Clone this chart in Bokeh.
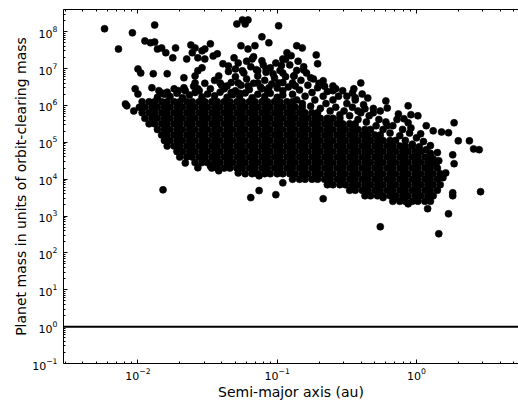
import numpy as np
from bokeh.plotting import figure
from bokeh.models import LogAxis, FixedTicker, Span, Range1d, CustomJSTickFormatter
from bokeh.embed import file_html
from bokeh.resources import INLINE

# Values, stored as (log10 semi-major axis [au], log10 planet mass / orbit-clearing mass)
top_outliers = [
    (-2.24, 8.08), (-2.14, 7.53), (-2.04, 7.97), (-1.88, 8.18), (-1.95, 7.75), (-1.91, 7.70),
    (-1.88, 7.72), (-1.86, 7.53), (-1.83, 7.56), (-1.80, 7.43), (-1.73, 7.56), (-1.75, 7.29),
    (-1.62, 7.64), (-1.59, 7.56), (-1.65, 7.26), (-1.61, 7.43), (-1.54, 7.48), (-1.48, 7.67),
    (-1.52, 7.53), (-1.57, 7.29), (-1.52, 7.26), (-1.46, 7.34), (-1.43, 7.40), (-2.00, 6.99),
    (-1.98, 6.88), (-1.89, 6.86), (-1.79, 6.86), (-1.67, 6.75), (-1.59, 6.80), (-1.59, 6.61),
    (-1.54, 7.02), (-1.57, 6.94), (-2.02, 6.45), (-2.00, 6.31), (-2.09, 6.04), (-2.08, 5.99),
    (-2.03, 5.85), (-1.90, 6.48), (-1.83, 6.34), (-1.71, 6.40), (-1.67, 6.48), (-1.25, 8.32),
    (-1.21, 8.32), (-1.29, 8.21), (-1.23, 8.21), (-0.99, 8.16), (-1.11, 7.86), (-1.06, 7.70),
    (-1.26, 7.62), (-1.16, 7.62), (-1.21, 7.53), (-1.18, 7.26), (-1.11, 7.21), (-1.39, 7.13),
    (-1.35, 7.07), (-1.31, 7.29), (-1.30, 6.99), (-1.25, 6.94), (-1.42, 6.80), (-1.41, 6.61),
    (-1.36, 6.53), (-1.28, 6.61), (-1.21, 6.53), (-1.14, 6.94), (-1.08, 6.99), (-1.03, 6.86),
    (-0.96, 6.88), (-0.96, 7.26), (-0.93, 7.43), (-1.14, 6.61), (-1.11, 6.45), (-1.06, 6.48),
    (-0.99, 6.61), (-0.96, 6.40), (-1.57, 6.45),
]

right_points = [
    (-0.86, 7.62), (-0.82, 7.56), (-0.72, 7.37), (-0.71, 7.13), (-0.81, 6.96), (-0.88, 6.80),
    (-0.87, 6.53), (-0.89, 6.61), (-0.76, 6.75), (-0.67, 6.67), (-0.60, 6.53), (-0.60, 6.40),
    (-0.40, 6.61), (-0.39, 6.31), (-0.53, 6.40), (-0.46, 6.34), (-0.44, 6.21), (-0.22, 6.12),
    (-0.21, 5.93), (-0.06, 5.99), (-0.04, 5.75), (-0.42, 5.85), (-0.37, 5.91), (-0.31, 5.80),
    (-0.26, 5.85), (-0.13, 5.77), (-0.09, 5.64), (-0.06, 5.53), (-0.21, 5.45), (0.01, 5.72),
    (0.07, 5.45), (-0.04, 5.39), (0.12, 5.31), (0.18, 5.28), (0.23, 5.26), (0.27, 5.53),
    (0.03, 5.23), (0.30, 5.04), (0.38, 5.04), (0.41, 4.82), (0.45, 4.80), (0.10, 4.91),
    (0.26, 4.66), (0.27, 4.42), (0.15, 4.72), (0.16, 4.50), (0.21, 4.17), (0.19, 4.04),
    (0.46, 3.66), (0.26, 3.63), (0.26, 3.55), (0.23, 3.06), (0.16, 2.52), (-0.26, 2.71),
    (-0.67, 3.47), (0.08, 3.20), (-0.06, 3.33), (-0.24, 3.50), (-0.16, 3.47),
]

lower_points = [
    (-1.82, 3.71), (-1.19, 3.50), (-1.13, 3.69), (-1.01, 3.58), (-1.66, 4.44), (-1.57, 4.31),
    (-1.48, 4.36), (-1.42, 4.23), (-1.28, 4.17), (-1.13, 4.09), (-0.96, 3.90),
]

cloud_points = [
    (-1.38, 6.45), (-1.33, 6.62), (-1.30, 6.40), (-1.26, 6.55), (-1.22, 6.72), (-1.20, 6.43),
    (-1.17, 6.60), (-1.14, 6.80), (-1.12, 6.50), (-1.09, 6.68), (-1.07, 6.40), (-1.04, 6.58),
    (-1.02, 6.75), (-1.00, 6.47), (-0.98, 6.95), (-0.96, 6.62), (-0.94, 6.78), (-0.92, 6.50),
    (-1.24, 6.88), (-1.19, 7.05), (-1.15, 6.97), (-1.10, 7.10), (-1.05, 7.02), (-1.01, 7.15),
    (-0.97, 7.08), (-1.30, 6.78), (-1.35, 6.92), (-1.28, 7.15), (-1.22, 7.20), (-1.17, 7.32),
    (-1.08, 6.90), (-1.33, 6.35), (-1.27, 6.33), (-1.40, 6.55), (-1.45, 6.68), (-1.48, 6.45),
    (-1.52, 6.60), (-1.56, 6.40), (-1.60, 6.52), (-1.66, 6.40), (-1.74, 6.45), (-1.79, 6.36),
    (-1.85, 6.40),
    (-0.89, 6.30), (-0.86, 6.15), (-0.84, 6.42), (-0.82, 6.05), (-0.80, 6.25), (-0.78, 6.55),
    (-0.76, 5.98), (-0.75, 6.35), (-0.73, 6.15), (-0.71, 6.48), (-0.69, 5.92), (-0.67, 6.25),
    (-0.65, 6.05), (-0.64, 6.38), (-0.62, 5.85), (-0.60, 6.15), (-0.58, 5.95), (-0.56, 6.25),
    (-0.55, 5.75), (-0.83, 6.68), (-0.79, 6.88), (-0.74, 6.72), (-0.70, 6.60), (-0.66, 6.52),
    (-0.86, 6.95), (-0.81, 7.05), (-0.88, 6.80), (-0.91, 7.10), (-0.94, 7.25), (-0.90, 7.35),
    (-0.85, 7.20),
    (-0.52, 5.85), (-0.50, 6.05), (-0.48, 5.72), (-0.46, 5.95), (-0.44, 6.15), (-0.42, 5.62),
    (-0.40, 5.80), (-0.38, 6.02), (-0.36, 5.55), (-0.34, 5.72), (-0.31, 5.92), (-0.29, 5.45),
    (-0.27, 5.62), (-0.24, 5.35), (-0.22, 5.55), (-0.19, 5.25), (-0.17, 5.45), (-0.14, 5.62),
    (-0.12, 5.18), (-0.10, 5.35), (-0.08, 5.05), (-0.05, 5.25), (-0.03, 4.95), (0.00, 5.12),
    (0.02, 4.88), (0.05, 5.02), (0.07, 4.80), (0.10, 4.70), (0.12, 4.55), (0.14, 4.42),
    (-0.58, 6.45), (-0.50, 6.25), (-0.45, 6.45), (-0.35, 6.20),
]

# ragged upper edge of the dense core
core_top_edge = [
    (-1.86, 6.22), (-1.81, 6.30), (-1.77, 6.24), (-1.72, 6.33), (-1.68, 6.21), (-1.63, 6.28),
    (-1.59, 6.35), (-1.54, 6.23), (-1.50, 6.31), (-1.45, 6.26), (-1.41, 6.36), (-1.36, 6.22),
    (-1.32, 6.29), (-1.27, 6.25), (-1.23, 6.34), (-1.18, 6.21), (-1.14, 6.30), (-1.09, 6.24),
    (-1.05, 6.33), (-1.00, 6.22), (-0.96, 6.28),
]

# dense core of the distribution, read row by row (log10 mass of row, log10 a of each point)
core_row_log_mass = [6.10, 5.95, 5.80, 5.65, 5.50, 5.35, 5.20, 5.05, 4.90,
                     4.75, 4.60, 4.45, 4.30, 4.15, 4.00, 3.85, 3.70, 3.55, 3.40]
core_row_log_a = [
    [-1.97, -1.92, -1.88, -1.83, -1.79, -1.74, -1.70, -1.65, -1.61, -1.56, -1.52, -1.47, -1.43, -1.38,
     -1.34, -1.29, -1.25, -1.20, -1.16, -1.11, -1.07, -1.02, -0.98, -0.93, -0.89],
    [-1.99, -1.95, -1.90, -1.86, -1.81, -1.77, -1.72, -1.68, -1.63, -1.59, -1.54, -1.50, -1.45, -1.41,
     -1.36, -1.32, -1.27, -1.23, -1.18, -1.14, -1.09, -1.05, -1.00, -0.96, -0.91, -0.87, -0.82],
    [-1.97, -1.92, -1.88, -1.83, -1.79, -1.74, -1.70, -1.65, -1.61, -1.56, -1.52, -1.47, -1.43, -1.38,
     -1.34, -1.29, -1.25, -1.20, -1.16, -1.11, -1.07, -1.02, -0.98, -0.93, -0.89, -0.84, -0.80, -0.75,
     -0.71],
    [-1.95, -1.90, -1.86, -1.81, -1.77, -1.72, -1.68, -1.63, -1.59, -1.54, -1.50, -1.45, -1.41, -1.36,
     -1.32, -1.27, -1.23, -1.18, -1.14, -1.09, -1.05, -1.00, -0.96, -0.91, -0.87, -0.82, -0.78, -0.73,
     -0.69, -0.64, -0.60, -0.55],
    [-1.92, -1.88, -1.83, -1.79, -1.74, -1.70, -1.65, -1.61, -1.56, -1.52, -1.47, -1.43, -1.38, -1.34,
     -1.29, -1.25, -1.20, -1.16, -1.11, -1.07, -1.02, -0.98, -0.93, -0.89, -0.84, -0.80, -0.75, -0.71,
     -0.66, -0.62, -0.57, -0.53, -0.48, -0.44],
    [-1.86, -1.81, -1.77, -1.72, -1.68, -1.63, -1.59, -1.54, -1.50, -1.45, -1.41, -1.36, -1.32, -1.27,
     -1.23, -1.18, -1.14, -1.09, -1.05, -1.00, -0.96, -0.91, -0.87, -0.82, -0.78, -0.73, -0.69, -0.64,
     -0.60, -0.55, -0.51, -0.46, -0.42, -0.37, -0.33],
    [-1.83, -1.79, -1.74, -1.70, -1.65, -1.61, -1.56, -1.52, -1.47, -1.43, -1.38, -1.34, -1.29, -1.25,
     -1.20, -1.16, -1.11, -1.07, -1.02, -0.98, -0.93, -0.89, -0.84, -0.80, -0.75, -0.71, -0.66, -0.62,
     -0.57, -0.53, -0.48, -0.44, -0.39, -0.35, -0.30, -0.26],
    [-1.81, -1.77, -1.72, -1.68, -1.63, -1.59, -1.54, -1.50, -1.45, -1.41, -1.36, -1.32, -1.27, -1.23,
     -1.18, -1.14, -1.09, -1.05, -1.00, -0.96, -0.91, -0.87, -0.82, -0.78, -0.73, -0.69, -0.64, -0.60,
     -0.55, -0.51, -0.46, -0.42, -0.37, -0.33, -0.28, -0.24, -0.19, -0.15],
    [-1.79, -1.74, -1.70, -1.65, -1.61, -1.56, -1.52, -1.47, -1.43, -1.38, -1.34, -1.29, -1.25, -1.20,
     -1.16, -1.11, -1.07, -1.02, -0.98, -0.93, -0.89, -0.84, -0.80, -0.75, -0.71, -0.66, -0.62, -0.57,
     -0.53, -0.48, -0.44, -0.39, -0.35, -0.30, -0.26, -0.21, -0.17, -0.12, -0.08, -0.03],
    [-1.72, -1.68, -1.63, -1.59, -1.54, -1.50, -1.45, -1.41, -1.36, -1.32, -1.27, -1.23, -1.18, -1.14,
     -1.09, -1.05, -1.00, -0.96, -0.91, -0.87, -0.82, -0.78, -0.73, -0.69, -0.64, -0.60, -0.55, -0.51,
     -0.46, -0.42, -0.37, -0.33, -0.28, -0.24, -0.19, -0.15, -0.10, -0.06, -0.01, 0.03],
    [-1.70, -1.65, -1.61, -1.56, -1.52, -1.47, -1.43, -1.38, -1.34, -1.29, -1.25, -1.20, -1.16, -1.11,
     -1.07, -1.02, -0.98, -0.93, -0.89, -0.84, -0.80, -0.75, -0.71, -0.66, -0.62, -0.57, -0.53, -0.48,
     -0.44, -0.39, -0.35, -0.30, -0.26, -0.21, -0.17, -0.12, -0.08, -0.03, 0.01, 0.06, 0.10],
    [-1.59, -1.54, -1.50, -1.45, -1.41, -1.36, -1.32, -1.27, -1.23, -1.18, -1.14, -1.09, -1.05, -1.00,
     -0.96, -0.91, -0.87, -0.82, -0.78, -0.73, -0.69, -0.64, -0.60, -0.55, -0.51, -0.46, -0.42, -0.37,
     -0.33, -0.28, -0.24, -0.19, -0.15, -0.10, -0.06, -0.01, 0.03, 0.08, 0.12],
    [-1.47, -1.43, -1.38, -1.34, -1.29, -1.25, -1.20, -1.16, -1.11, -1.07, -1.02, -0.98, -0.93, -0.89,
     -0.84, -0.80, -0.75, -0.71, -0.66, -0.62, -0.57, -0.53, -0.48, -0.44, -0.39, -0.35, -0.30, -0.26,
     -0.21, -0.17, -0.12, -0.08, -0.03, 0.01, 0.06, 0.10, 0.15],
    [-1.23, -1.18, -1.14, -1.09, -1.05, -1.00, -0.96, -0.91, -0.87, -0.82, -0.78, -0.73, -0.69, -0.64,
     -0.60, -0.55, -0.51, -0.46, -0.42, -0.37, -0.33, -0.28, -0.24, -0.19, -0.15, -0.10, -0.06, -0.01,
     0.03, 0.08, 0.12, 0.17],
    [-0.89, -0.84, -0.80, -0.75, -0.71, -0.66, -0.62, -0.57, -0.53, -0.48, -0.44, -0.39, -0.35, -0.30,
     -0.26, -0.21, -0.17, -0.12, -0.08, -0.03, 0.01, 0.06, 0.10, 0.15],
    [-0.64, -0.60, -0.55, -0.51, -0.46, -0.42, -0.37, -0.33, -0.28, -0.24, -0.19, -0.15, -0.10, -0.06,
     -0.01, 0.03, 0.08, 0.12, 0.17],
    [-0.48, -0.44, -0.39, -0.35, -0.30, -0.26, -0.21, -0.17, -0.12, -0.08, -0.03, 0.01, 0.06, 0.10, 0.15],
    [-0.37, -0.33, -0.28, -0.24, -0.19, -0.15, -0.10, -0.06, -0.01, 0.03, 0.08, 0.12],
    [-0.17, -0.12, -0.08, -0.03, 0.01, 0.06, 0.10],
]

clearing_threshold = 1.0
x_major_ticks = [1e-2, 1e-1, 1e0]
y_major_ticks = [1e-1, 1e0, 1e1, 1e2, 1e3, 1e4, 1e5, 1e6, 1e7, 1e8]

# ---- assemble
log_a, log_m = [], []
for group in (top_outliers, right_points, lower_points, cloud_points, core_top_edge):
    for la, lm in group:
        log_a.append(la)
        log_m.append(lm)
for lm, row in zip(core_row_log_mass, core_row_log_a):
    for la in row:
        log_a.append(la)
        log_m.append(lm)
semi_major_axis = 10.0 ** np.array(log_a)
mass_ratio = 10.0 ** np.array(log_m)

FONT = "DejaVu Sans"

p = figure(width=518, height=402, x_axis_type="log", y_axis_type="log",
           x_range=Range1d(2.92e-3, 5.4), y_range=Range1d(0.1, 4.0e8),
           output_backend="svg", toolbar_location=None,
           min_border_left=63, min_border_right=0, min_border_top=9, min_border_bottom=39)
p.outline_line_color = None
p.grid.visible = False
p.background_fill_color = "white"
p.border_fill_color = "white"

x_minor = [m * 10.0 ** e for e in range(-3, 1) for m in range(2, 10)]
y_minor = [m * 10.0 ** e for e in range(-1, 9) for m in range(2, 10)]
xticker = FixedTicker(ticks=x_major_ticks, minor_ticks=x_minor)
yticker = FixedTicker(ticks=y_major_ticks, minor_ticks=y_minor)


def style_axis(ax):
    ax.axis_line_color = "black"
    ax.axis_line_width = 1
    ax.major_tick_in = 4
    ax.major_tick_out = 0
    ax.minor_tick_in = 2
    ax.minor_tick_out = 0
    ax.major_tick_line_color = "black"
    ax.minor_tick_line_color = "black"
    ax.major_label_text_font = FONT
    ax.major_label_text_font_size = "11px"
    ax.major_label_text_color = "black"
    ax.axis_label_text_font = FONT
    ax.axis_label_text_font_size = "14px"
    ax.axis_label_text_font_style = "normal"
    ax.axis_label_text_color = "black"


xa = p.xaxis[0]
xa.ticker = xticker
style_axis(xa)
xa.axis_label = "Semi-major axis (au)"
xa.major_label_standoff = 4
xa.axis_label_standoff = 1

ya = p.yaxis[0]
ya.ticker = yticker
style_axis(ya)
ya.axis_label = "Planet mass in units of orbit-clearing mass"
ya.major_label_standoff = 6
ya.axis_label_standoff = 0

top = LogAxis(ticker=xticker, formatter=CustomJSTickFormatter(code="return ' '"))
style_axis(top)
top.major_label_text_font_size = "1px"
top.major_label_standoff = 0
p.add_layout(top, "above")

p.scatter(semi_major_axis, mass_ratio, size=7, fill_color="black", line_color="black", line_width=0.6)
p.add_layout(Span(location=clearing_threshold, dimension="width", line_color="black", line_width=2))

open("out.html", "w").write(file_html(p, INLINE))
